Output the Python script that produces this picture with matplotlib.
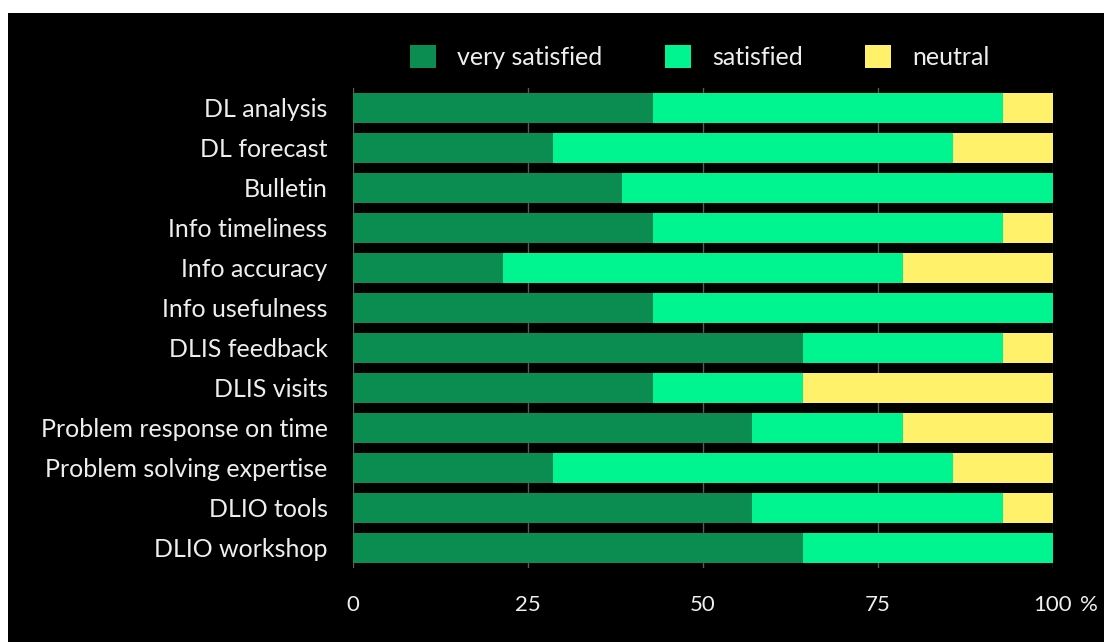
import matplotlib
matplotlib.use("Agg")
import matplotlib.pyplot as plt
from matplotlib.patches import Rectangle

# Survey items, top to bottom
items = [
    "DL analysis", "DL forecast", "Bulletin", "Info timeliness",
    "Info accuracy", "Info usefulness", "DLIS feedback", "DLIS visits",
    "Problem response on time", "Problem solving expertise",
    "DLIO tools", "DLIO workshop",
]

# Shares in percent
very_satisfied = [42.9, 28.6, 38.5, 42.9, 21.4, 42.9, 64.3, 42.9, 57.1, 28.6, 57.1, 64.3]
satisfied = [50.0, 57.1, 61.5, 50.0, 57.2, 57.1, 28.6, 21.4, 21.5, 57.1, 35.8, 35.7]
neutral = [7.1, 14.3, 0.0, 7.1, 21.4, 0.0, 7.1, 35.7, 21.4, 14.3, 7.1, 0.0]

x_ticks = [0, 25, 50, 75, 100]
series_names = ["very satisfied", "satisfied", "neutral"]
colors = ["#0b8c50", "#00f590", "#fff26a"]
text_color = "#eeeeee"
fs = 18

plt.rcParams["font.family"] = ["Lato", "DejaVu Sans"]

fig = plt.figure(figsize=(11.04, 6.44), dpi=100)
fig.patch.set_facecolor("white")

# black slide background, with a thin white margin top and left
fig.patches.append(Rectangle((8 / 1104, 2 / 644), 1 - 8 / 1104, 629 / 644,
                             transform=fig.transFigure, facecolor="black",
                             edgecolor="none", zorder=-5))

ax = fig.add_axes([352.7 / 1104, 76.3 / 644, 700 / 1104, 480 / 644])
ax.set_facecolor("black")

y = list(range(len(items)))
left_neutral = [a + b for a, b in zip(very_satisfied, satisfied)]
h = 0.76
bars = [
    ax.barh(y, very_satisfied, height=h, color=colors[0], zorder=3),
    ax.barh(y, satisfied, left=very_satisfied, height=h, color=colors[1], zorder=3),
    ax.barh(y, neutral, left=left_neutral, height=h, color=colors[2], zorder=3),
]

ax.set_xlim(0, 100)
ax.set_ylim(len(items) - 0.5, -0.5)
for v in x_ticks:
    ax.axvline(v, color="#5a5a5a", lw=1, zorder=1)

ax.set_yticks(y)
ax.set_yticklabels(items)
ax.set_xticks(x_ticks)
ax.set_xticklabels(["0", "25", "50", "75", "100"])
ax.tick_params(axis="y", length=0, pad=18, labelsize=fs, labelcolor=text_color)
ax.tick_params(axis="x", length=0, pad=20, labelsize=16, labelcolor=text_color)
ax.annotate("%", xy=(100, 0), xycoords=("data", "axes fraction"),
            xytext=(20, -20), textcoords="offset points",
            color=text_color, fontsize=16, ha="left", va="top")
for s in ax.spines.values():
    s.set_visible(False)

leg = fig.legend(bars, series_names, loc="center", bbox_to_anchor=(700 / 1104, 1 - 57 / 644),
                 ncol=3, frameon=False, fontsize=fs, labelcolor=text_color,
                 handlelength=1.04, handleheight=1.0, handletextpad=0.84,
                 columnspacing=2.5)

fig.savefig("out.png", dpi=100, facecolor=fig.get_facecolor())
